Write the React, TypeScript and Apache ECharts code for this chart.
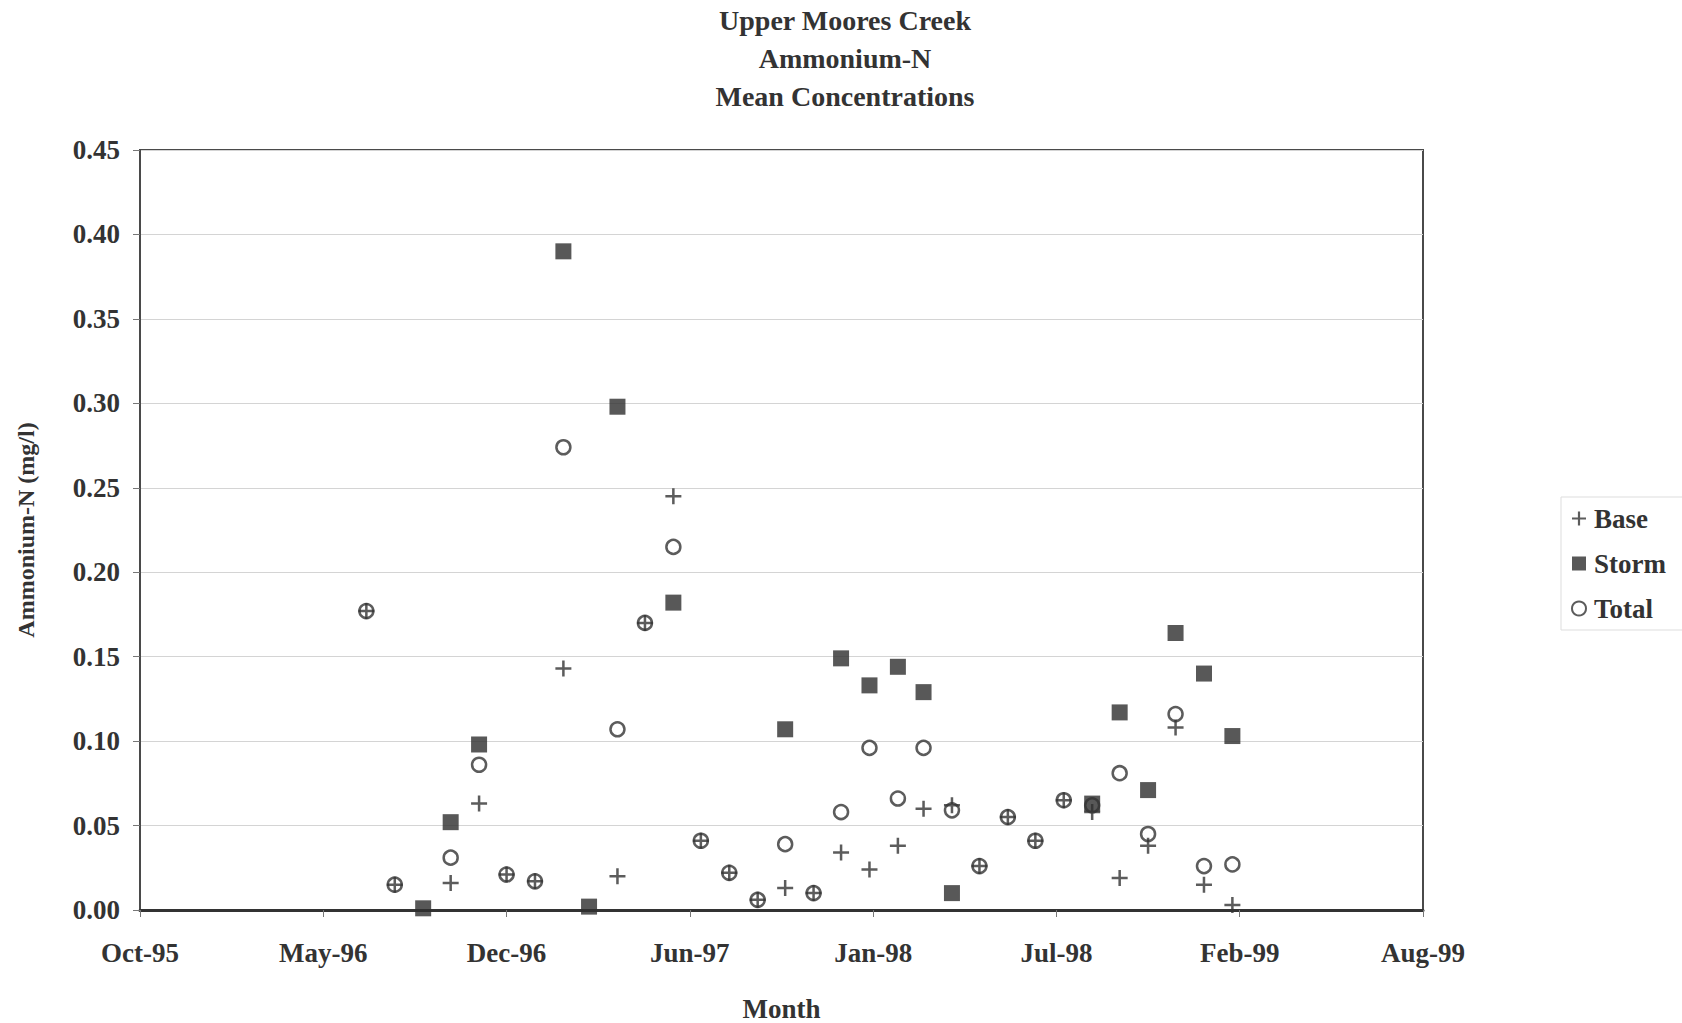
import React, { useEffect, useRef } from "react";
import * as echarts from "echarts";

// Sampling months (first day of each month)
const months = [
  "1996-07-01", "1996-08-01", "1996-09-01", "1996-10-01", "1996-11-01", "1996-12-01",
  "1997-01-01", "1997-02-01", "1997-03-01", "1997-04-01", "1997-05-01", "1997-06-01",
  "1997-07-01", "1997-08-01", "1997-09-01", "1997-10-01", "1997-11-01", "1997-12-01",
  "1998-01-01", "1998-02-01", "1998-03-01", "1998-04-01", "1998-05-01", "1998-06-01",
  "1998-07-01", "1998-08-01", "1998-09-01", "1998-10-01", "1998-11-01", "1998-12-01",
  "1999-01-01", "1999-02-01",
];

const baseValues: (number | null)[] = [
  0.177, 0.015, null, 0.016, 0.063, 0.021,
  0.017, 0.143, null, 0.020, 0.170, 0.245,
  0.041, 0.022, 0.006, 0.013, 0.010, 0.034,
  0.024, 0.038, 0.060, 0.062, 0.026, 0.055,
  0.041, 0.065, 0.058, 0.019, 0.038, 0.108,
  0.015, 0.003,
];

const stormValues: (number | null)[] = [
  null, null, 0.001, 0.052, 0.098, null,
  null, 0.390, 0.002, 0.298, null, 0.182,
  null, null, null, 0.107, null, 0.149,
  0.133, 0.144, 0.129, 0.010, null, null,
  null, null, 0.063, 0.117, 0.071, 0.164,
  0.140, 0.103,
];

const totalValues: (number | null)[] = [
  0.177, 0.015, null, 0.031, 0.086, 0.021,
  0.017, 0.274, null, 0.107, 0.170, 0.215,
  0.041, 0.022, 0.006, 0.039, 0.010, 0.058,
  0.096, 0.066, 0.096, 0.059, 0.026, 0.055,
  0.041, 0.065, 0.062, 0.081, 0.045, 0.116,
  0.026, 0.027,
];

// x axis in spreadsheet date serials
const xMin = 35000;
const xMax = 36400;
const xInterval = 200;
const yTicks = { min: 0, max: 0.45, interval: 0.05 };

const MONTH_ABBR = ["Jan", "Feb", "Mar", "Apr", "May", "Jun", "Jul", "Aug", "Sep", "Oct", "Nov", "Dec"];
const EPOCH = Date.UTC(1899, 11, 30);
const toSerial = (iso: string) => {
  const [y, m, d] = iso.split("-").map(Number);
  return (Date.UTC(y, m - 1, d) - EPOCH) / 86400000;
};
const serialLabel = (s: number) => {
  const dt = new Date(EPOCH + Math.round(s) * 86400000);
  return MONTH_ABBR[dt.getUTCMonth()] + "-" + String(dt.getUTCFullYear() % 100).padStart(2, "0");
};

const FONT = "'Liberation Serif', 'Times New Roman', serif";
const INK = "#333333";
const PLUS = "path://M5.9,0 H8.1 V5.9 H14 V8.1 H8.1 V14 H5.9 V8.1 H0 V5.9 H5.9 Z";
const FS = 27;

const pairs = (vals: (number | null)[]) =>
  months
    .map((m, i) => (vals[i] == null ? null : [toSerial(m), vals[i]]))
    .filter((p) => p !== null);

export default function App() {
  const ref = useRef<HTMLDivElement>(null);
  useEffect(() => {
    if (!ref.current) return;
    const chart = echarts.init(ref.current, undefined, { renderer: "svg" });
    chart.setOption({
      animation: false,
      backgroundColor: "#ffffff",
      title: {
        text: "Upper Moores Creek\nAmmonium-N\nMean Concentrations",
        left: 840,
        top: -4,
        textAlign: "center",
        textStyle: {
          fontFamily: FONT,
          fontWeight: "bold",
          fontSize: 28,
          lineHeight: 38,
          color: INK,
        },
      },
      legend: {
        orient: "vertical",
        left: 1561,
        top: 497,
        padding: [8, 30, 8, 10],
        itemGap: 18,
        itemWidth: 14,
        itemHeight: 14,
        borderColor: "#dddddd",
        borderWidth: 1,
        textStyle: { fontFamily: FONT, fontWeight: "bold", fontSize: FS, color: INK, padding: [0, 0, 0, 3] },
        data: [
          { name: "Base", icon: PLUS },
          { name: "Storm", icon: "rect" },
          { name: "Total", icon: "circle" },
        ],
      },
      grid: {
        left: 140,
        right: 259,
        top: 150,
        bottom: 113,
        outerBoundsMode: "none",
        containLabel: false,
        show: true,
        borderColor: "#4a4a4a",
        borderWidth: 2,
        backgroundColor: "transparent",
      },
      xAxis: {
        type: "value",
        min: xMin,
        max: xMax,
        interval: xInterval,
        name: "Month",
        nameLocation: "middle",
        nameGap: 85,
        nameTextStyle: { fontFamily: FONT, fontWeight: "bold", fontSize: FS, color: INK },
        axisLine: { show: true, lineStyle: { color: "#333", width: 3 } },
        axisTick: { show: true, inside: false, length: 7, lineStyle: { color: "#777", width: 1 } },
        axisLabel: {
          margin: 29,
          fontFamily: FONT,
          fontWeight: "bold",
          fontSize: FS,
          color: INK,
          formatter: (v: number) => serialLabel(v),
        },
        splitLine: { show: false },
      },
      yAxis: {
        type: "value",
        min: yTicks.min,
        max: yTicks.max,
        interval: yTicks.interval,
        name: "Ammonium-N (mg/l)",
        nameLocation: "middle",
        nameGap: 102,
        nameTextStyle: { fontFamily: FONT, fontWeight: "bold", fontSize: 24, color: INK },
        axisLine: { show: true, lineStyle: { color: "#4a4a4a", width: 2 } },
        axisTick: { show: true, inside: false, length: 7, lineStyle: { color: "#777", width: 1 } },
        axisLabel: {
          margin: 20,
          fontFamily: FONT,
          fontWeight: "bold",
          fontSize: FS,
          color: INK,
          formatter: (v: number) => v.toFixed(2),
        },
        splitLine: { show: true, lineStyle: { color: "#d4d4d4", width: 1 } },
      },
      series: [
        {
          name: "Base",
          type: "scatter",
          symbol: PLUS,
          symbolSize: 16,
          itemStyle: { color: INK },
          data: pairs(baseValues),
          z: 2,
        },
        {
          name: "Storm",
          type: "scatter",
          symbol: "rect",
          symbolSize: 16,
          itemStyle: { color: "#2e2e2e" },
          data: pairs(stormValues),
          z: 3,
        },
        {
          name: "Total",
          type: "scatter",
          symbol: "circle",
          symbolSize: 14,
          itemStyle: { color: "rgba(0,0,0,0)", borderColor: INK, borderWidth: 2.5 },
          data: pairs(totalValues),
          z: 4,
        },
      ],
    });
    return () => chart.dispose();
  }, []);
  return (
    <div
      ref={ref}
      style={{ position: "fixed", left: 0, top: 0, width: 1682, height: 1023, background: "#fff" }}
    />
  );
}
